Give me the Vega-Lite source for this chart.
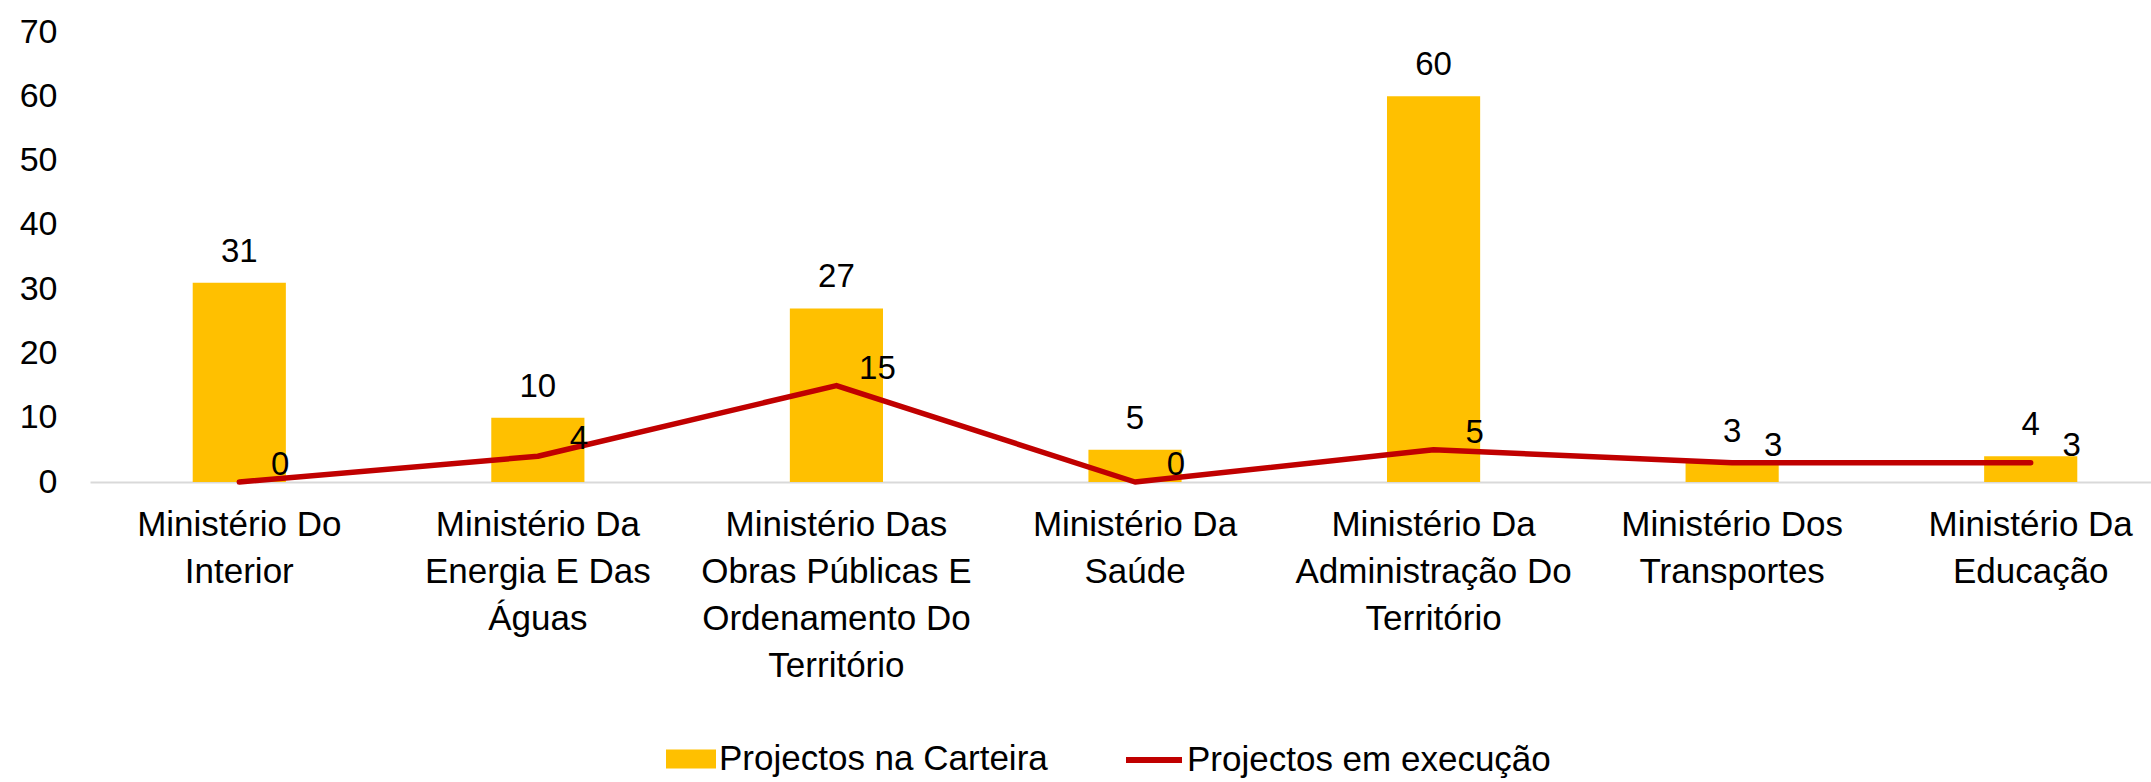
{
  "$schema": "https://vega.github.io/schema/vega-lite/v6.json",
  "autosize": {"type": "none"},
  "width": 2061,
  "height": 450,
  "padding": {"left": 90, "top": 32, "right": 0, "bottom": 300},
  "background": "white",
  "config": {"view": {"stroke": null}, "font": "Liberation Sans"},
  "data": {
    "values": [
      {"ministerio": "Ministério Do Interior", "carteira": 31, "execucao": 0},
      {"ministerio": "Ministério Da Energia E Das Águas", "carteira": 10, "execucao": 4},
      {"ministerio": "Ministério Das Obras Públicas E Ordenamento Do Território", "carteira": 27, "execucao": 15},
      {"ministerio": "Ministério Da Saúde", "carteira": 5, "execucao": 0},
      {"ministerio": "Ministério Da Administração Do Território", "carteira": 60, "execucao": 5},
      {"ministerio": "Ministério Dos Transportes", "carteira": 3, "execucao": 3},
      {"ministerio": "Ministério Da Educação", "carteira": 4, "execucao": 3}
    ]
  },
  "encoding": {
    "x": {
      "field": "ministerio",
      "type": "nominal",
      "sort": null,
      "scale": {"range": [0, 2090], "paddingInner": 0.688, "paddingOuter": 0.344},
      "axis": {
        "title": null,
        "labelAngle": 0,
        "ticks": false,
        "domainColor": "#D9D9D9",
        "domainWidth": 2,
        "labelFontSize": 35,
        "labelLineHeight": 47,
        "labelPadding": 25,
        "labelColor": "#000000",
        "labelLimit": 500,
        "labelOverlap": false,
        "labelBaseline": "top",
        "labelExpr": "split(slice(replace(datum.label, regexp('(.{1,16})(\\\\s|$)', 'g'), '$1|'), 0, -1), '|')"
      }
    }
  },
  "layer": [
    {
      "mark": {"type": "bar", "color": "#FFC000"},
      "encoding": {
        "y": {
          "field": "carteira",
          "type": "quantitative",
          "scale": {"domain": [0, 70], "nice": false},
          "axis": {
            "title": null,
            "domain": false,
            "ticks": false,
            "grid": false,
            "values": [0, 10, 20, 30, 40, 50, 60, 70],
            "labelFontSize": 34,
            "labelPadding": 33,
            "labelColor": "#000000"
          }
        },
        "fill": {
          "datum": "Projectos na Carteira",
          "type": "nominal",
          "scale": {"range": ["#FFC000"]},
          "legend": {
            "orient": "none",
            "legendX": 576,
            "legendY": 702,
            "title": null,
            "symbolType": "M-1,-0.38H1V0.38H-1Z",
            "symbolSize": 2500,
            "symbolStrokeWidth": 0,
            "labelFontSize": 35,
            "labelColor": "#000000",
            "labelOffset": 3,
            "labelLimit": 600
          }
        }
      }
    },
    {
      "mark": {"type": "text", "baseline": "bottom", "dy": -14, "fontSize": 33, "color": "#000000"},
      "encoding": {
        "y": {"field": "carteira", "type": "quantitative"},
        "text": {"field": "carteira", "type": "quantitative"}
      }
    },
    {
      "mark": {"type": "line", "interpolate": "linear", "strokeWidth": 5.5, "color": "#C00000", "strokeCap": "round", "strokeJoin": "round"},
      "encoding": {
        "y": {"field": "execucao", "type": "quantitative"},
        "stroke": {
          "datum": "Projectos em execução",
          "type": "nominal",
          "scale": {"range": ["#C00000"]},
          "legend": {
            "orient": "none",
            "legendX": 1033,
            "legendY": 697,
            "title": null,
            "symbolType": "stroke",
            "symbolSize": 3136,
            "symbolStrokeWidth": 6,
            "labelFontSize": 35,
            "labelColor": "#000000",
            "labelOffset": 2,
            "labelLimit": 600
          }
        }
      }
    },
    {
      "mark": {"type": "text", "baseline": "middle", "dx": 41, "dy": -17, "fontSize": 33, "color": "#000000"},
      "encoding": {
        "y": {"field": "execucao", "type": "quantitative"},
        "text": {"field": "execucao", "type": "quantitative"}
      }
    }
  ]
}
